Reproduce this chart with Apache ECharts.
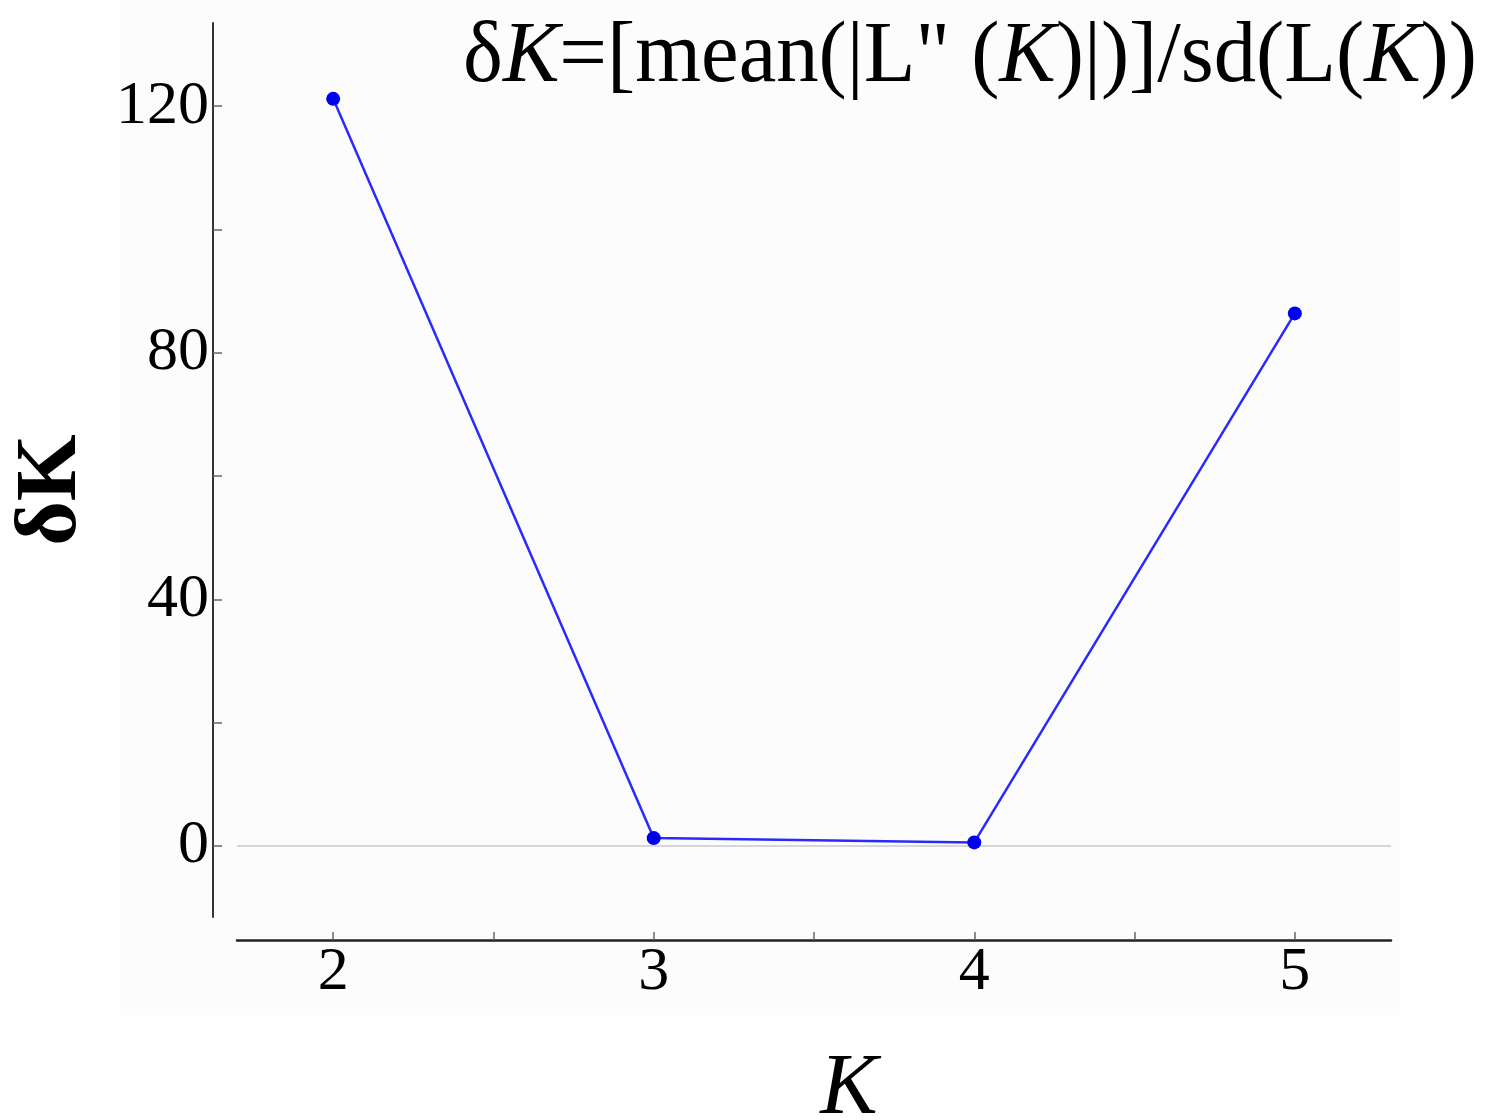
<!DOCTYPE html>
<html>
<head>
<meta charset="utf-8">
<script src="https://cdn.jsdelivr.net/npm/echarts@6/dist/echarts.min.js"></script>
<style>
  html, body { margin: 0; padding: 0; background: #ffffff; }
  #main { width: 1485px; height: 1120px; }
</style>
</head>
<body>
<div id="main"></div>
<script>
// ---- data ----
const kValues = [2, 3, 4, 5];
const deltaK = [121.2, 1.3, 0.6, 86.4];
const yLabelValues = [0, 40, 80, 120];
const yTickValues = [0, 20, 40, 60, 80, 100, 120];
const xLabelValues = [2, 3, 4, 5];
const xTickValues = [2, 2.5, 3, 3.5, 4, 4.5, 5];
const titleParts = [
  ['n', 'δ'], ['i', 'K'], ['n', '=[mean(|L" ('], ['i', 'K'], ['n', ')|)]/sd(L('], ['i', 'K'], ['n', '))']
];

const FONT = '"Liberation Serif", "Times New Roman", serif';
const TITLE_SIZE = 86;

// measure title to compress it horizontally like the reference
const cv = document.createElement('canvas').getContext('2d');
let titleW = 0;
titleParts.forEach(function (p) {
  cv.font = (p[0] === 'i' ? 'italic ' : '') + TITLE_SIZE + 'px ' + FONT;
  titleW += cv.measureText(p[1]).width;
});
const titleScale = 1014 / titleW;

const chart = echarts.init(document.getElementById('main'), null, { renderer: 'canvas' });

const option = {
  animation: false,
  backgroundColor: '#ffffff',
  grid: { left: 237, right: 94, top: 23, bottom: 203, containLabel: false, outerBoundsMode: 'none' },
  graphic: [
    {
      type: 'rect', z: -10, silent: true,
      shape: { x: 120, y: 0, width: 1280, height: 1015 },
      style: { fill: '#fcfcfc' }
    },
    {
      type: 'text', z: 10, silent: true,
      x: 463, y: 58, scaleX: titleScale, scaleY: 1,
      style: {
        text: titleParts.map(function (p) { return '{' + p[0] + '|' + p[1] + '}'; }).join(''),
        align: 'left', verticalAlign: 'middle',
        fill: '#000',
        rich: {
          n: { fontFamily: FONT, fontSize: TITLE_SIZE, fill: '#000' },
          i: { fontFamily: FONT, fontSize: TITLE_SIZE, fontStyle: 'italic', fill: '#000' }
        }
      }
    }
  ],
  xAxis: {
    type: 'value',
    min: 1.7,
    max: 5.3,
    offset: 23,
    name: 'K',
    nameLocation: 'middle',
    nameGap: 107,
    nameTextStyle: { fontFamily: FONT, fontSize: 86, fontStyle: 'italic', color: '#000', padding: [0, 0, 0, 70] },
    axisLine: { show: true, onZero: false, lineStyle: { color: '#222', width: 2.5 } },
    axisTick: { show: true, inside: true, length: 8, customValues: xTickValues, lineStyle: { color: '#666', width: 1.5 } },
    axisLabel: { show: true, customValues: xLabelValues, margin: 2, fontFamily: FONT, fontSize: 62, color: '#000' },
    splitLine: { show: false }
  },
  yAxis: {
    type: 'value',
    min: -11.5,
    max: 133.5,
    offset: 24,
    name: 'δK',
    nameLocation: 'middle',
    nameRotate: 90,
    nameGap: 117,
    nameTextStyle: { fontFamily: FONT, fontSize: 86, fontWeight: 'bold', color: '#000', padding: [0, 40, 0, 0] },
    axisLine: { show: true, onZero: false, lineStyle: { color: '#333', width: 2 } },
    axisTick: { show: true, inside: true, length: 9, customValues: yTickValues, lineStyle: { color: '#666', width: 1.5 } },
    axisLabel: { show: true, customValues: yLabelValues, margin: 4, fontFamily: FONT, fontSize: 62, color: '#000' },
    splitLine: { show: false }
  },
  series: [
    {
      type: 'line',
      data: kValues.map(function (k, i) { return [k, deltaK[i]]; }),
      symbol: 'circle',
      symbolSize: 14,
      itemStyle: { color: '#0000f0' },
      lineStyle: { color: '#2a2aff', width: 2.5 },
      z: 5,
      markLine: {
        silent: true,
        symbol: ['none', 'none'],
        label: { show: false },
        lineStyle: { color: '#d6d6d6', width: 2, type: 'solid' },
        data: [{ yAxis: 0 }],
        z: 1
      }
    }
  ]
};
chart.setOption(option);
</script>
</body>
</html>
